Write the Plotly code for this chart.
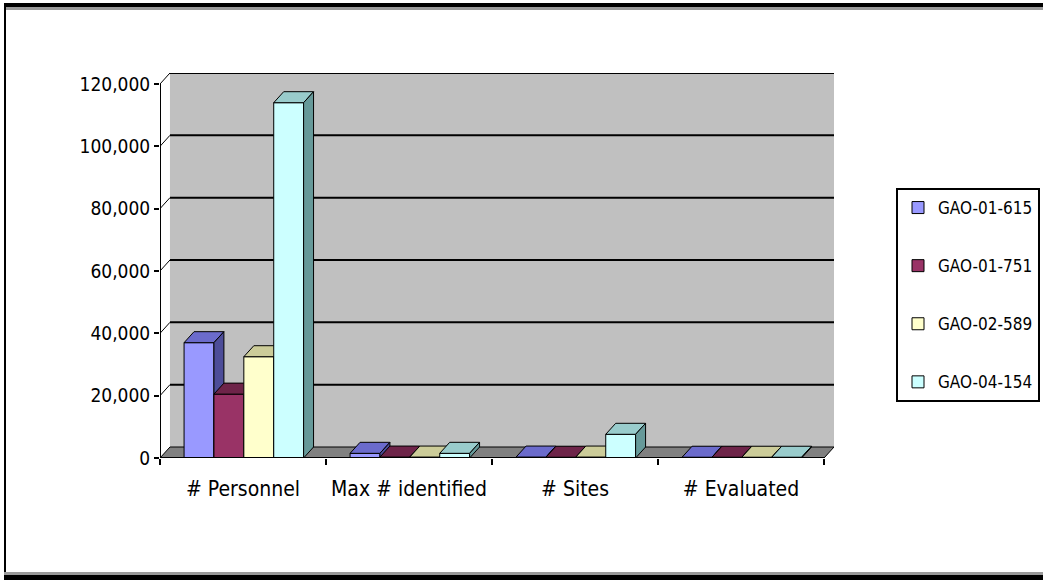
import plotly.graph_objects as go

# ---------------- data ----------------
categories = ["# Personnel", "Max # identified", "# Sites", "# Evaluated"]
series_names = ["GAO-01-615", "GAO-01-751", "GAO-02-589", "GAO-04-154"]
gao_01_615 = [37000, 1500, 300, 250]
gao_01_751 = [20500, 300, 250, 250]
gao_02_589 = [32500, 300, 300, 250]
gao_04_154 = [114000, 1500, 7600, 250]
y_tick_vals = [0, 20000, 40000, 60000, 80000, 100000, 120000]
y_tick_text = ["0", "20,000", "40,000", "60,000", "80,000", "100,000", "120,000"]

series_values = [gao_01_615, gao_01_751, gao_02_589, gao_04_154]
front_colors = ["#9999ff", "#993366", "#ffffcc", "#ccffff"]
top_colors = ["#6b6bcc", "#6e2449", "#cccc99", "#99cccc"]
side_colors = ["#4d4d99", "#561c39", "#999973", "#669999"]

# ---------------- geometry / style ----------------
W, H = 1043, 582
L_M, R_M, T_M, B_M = 160, 209, 73, 124
bar_w = 0.18
group_left = -0.355
dx = 0.06          # depth offset (x units)
dy = 3530          # depth offset (y units)
x_range = [-0.5, 3.5 + dx]
y_range = [0, 120000 + dy]
FONT = "DejaVu Sans Condensed, Liberation Sans Narrow, Liberation Sans, sans-serif"

plot_w = W - L_M - R_M
plot_h = H - T_M - B_M


def px2paper_x(px):
    return (px - L_M) / plot_w


def py2paper_y(py):
    return (H - B_M - py) / plot_h


fig = go.Figure()

# bars: one overlaid subplot per series so that the painter's order is correct
for i, (name, vals) in enumerate(zip(series_names, series_values)):
    k = i + 2
    xa, ya = f"x{k}", f"y{k}"
    left = group_left + i * bar_w
    fig.add_trace(go.Bar(
        x=list(range(len(categories))), y=vals, name=name,
        offset=left, width=bar_w,
        marker=dict(color=front_colors[i], line=dict(color="black", width=1)),
        xaxis=xa, yaxis=ya, legendgroup=name, hoverinfo="skip",
    ))
    for j, v in enumerate(vals):
        x0 = j + left
        x1 = x0 + bar_w
        # top face
        fig.add_trace(go.Scatter(
            x=[x0, x1, x1 + dx, x0 + dx, x0], y=[v, v, v + dy, v + dy, v],
            mode="lines", fill="toself", fillcolor=top_colors[i],
            line=dict(color="black", width=1), showlegend=False,
            xaxis=xa, yaxis=ya, hoverinfo="skip"))
        # side face
        fig.add_trace(go.Scatter(
            x=[x1, x1, x1 + dx, x1 + dx, x1], y=[0, v, v + dy, dy, 0],
            mode="lines", fill="toself", fillcolor=side_colors[i],
            line=dict(color="black", width=1), showlegend=False,
            xaxis=xa, yaxis=ya, hoverinfo="skip"))

shapes = []
# back wall
shapes.append(dict(type="rect", xref="x", yref="y", x0=-0.5 + dx, x1=3.5 + dx,
                   y0=dy, y1=120000 + dy, fillcolor="#c0c0c0", line=dict(width=0),
                   layer="below"))
# floor
shapes.append(dict(type="path", xref="x", yref="y",
                   path=f"M -0.5 0 L 3.5 0 L {3.5 + dx} {dy} L {-0.5 + dx} {dy} Z",
                   fillcolor="#808080", line=dict(color="black", width=1), layer="below"))
# gridlines on the back wall + diagonal tick connectors
for v in y_tick_vals[1:]:
    shapes.append(dict(type="line", xref="x", yref="y", x0=-0.5 + dx, x1=3.5 + dx,
                       y0=v + dy, y1=v + dy, line=dict(color="black", width=2),
                       layer="below"))
    shapes.append(dict(type="line", xref="x", yref="y", x0=-0.5, x1=-0.5 + dx,
                       y0=v, y1=v + dy, line=dict(color="black", width=1),
                       layer="below"))
# axes lines
shapes.append(dict(type="line", xref="x", yref="y", x0=-0.5, x1=-0.5, y0=0, y1=120000,
                   line=dict(color="black", width=2)))
shapes.append(dict(type="line", xref="x", yref="y", x0=-0.5, x1=3.5, y0=0, y1=0,
                   line=dict(color="black", width=2)))

# outer frame
def frame_rect(px0, py0, px1, py1, color):
    return dict(type="rect", xref="paper", yref="paper",
                x0=px2paper_x(px0), x1=px2paper_x(px1),
                y0=py2paper_y(py1), y1=py2paper_y(py0),
                fillcolor=color, line=dict(width=0), layer="above")

shapes.append(frame_rect(4, 3, W, 7, "black"))
shapes.append(frame_rect(4, 7, W, 10, "#9a9a9a"))
shapes.append(frame_rect(4, 3, 6, 580, "black"))
shapes.append(frame_rect(4, 572, W, 575, "#9a9a9a"))
shapes.append(frame_rect(4, 575, W, 580, "black"))

axis_common = dict(showgrid=False, zeroline=False)
layout = dict(
    width=W, height=H,
    margin=dict(l=L_M, r=R_M, t=T_M, b=B_M, pad=0),
    paper_bgcolor="white", plot_bgcolor="rgba(0,0,0,0)",
    font=dict(family=FONT, size=20, color="black"),
    showlegend=True,
    legend=dict(
        xref="container", yref="container",
        x=896 / W, y=1 - 188 / H, xanchor="left", yanchor="top",
        bgcolor="white", bordercolor="black", borderwidth=2,
        font=dict(family=FONT, size=17, color="black"),
        tracegroupgap=33, itemwidth=30,
    ),
    xaxis=dict(range=x_range, **axis_common, showline=False,
               tickmode="array", tickvals=list(range(len(categories))),
               ticktext=categories, ticks="", ticklabelstandoff=16,
               tickfont=dict(family=FONT, size=21),
               minor=dict(tickmode="array", tickvals=[-0.5, 0.5, 1.5, 2.5, 3.5],
                          ticks="outside", ticklen=6, tickcolor="black", tickwidth=1.5)),
    yaxis=dict(range=y_range, **axis_common, showline=False,
               tickmode="array", tickvals=y_tick_vals, ticktext=y_tick_text,
               ticks="outside", ticklen=5, tickwidth=1.5, tickcolor="black",
               tickfont=dict(family=FONT, size=19)),
    shapes=shapes,
    hovermode=False,
)
for i in range(len(series_names)):
    k = i + 2
    layout[f"xaxis{k}"] = dict(range=x_range, overlaying="x", visible=False, **axis_common)
    layout[f"yaxis{k}"] = dict(range=y_range, overlaying="y", visible=False, **axis_common)

fig.update_layout(**layout)
fig.write_html("out.html")
